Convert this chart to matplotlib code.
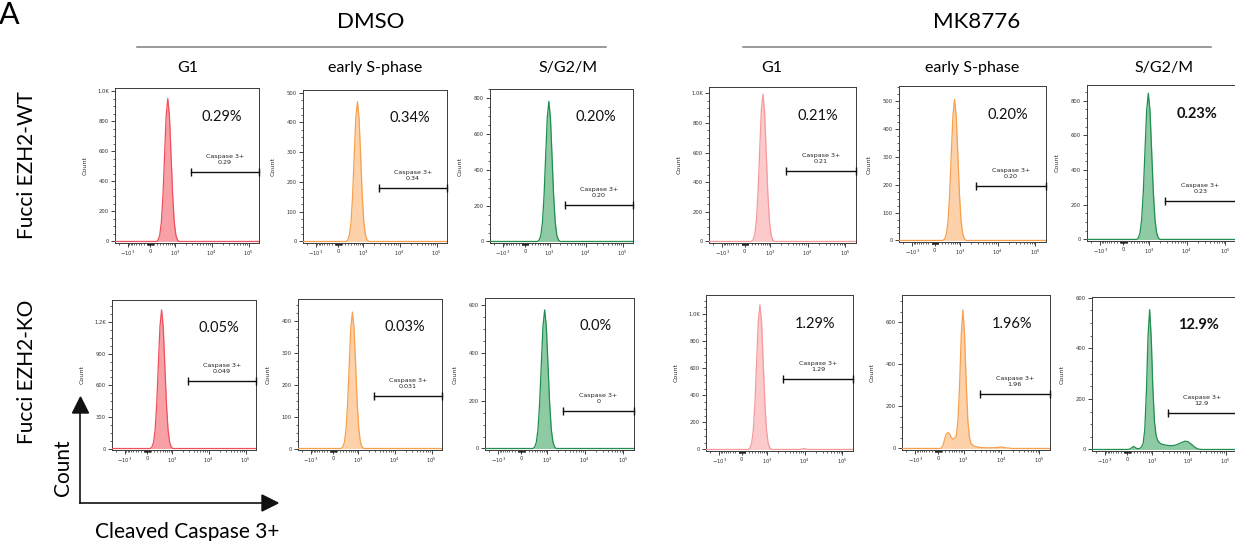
import numpy as np
import matplotlib
matplotlib.use("Agg")
import matplotlib.pyplot as plt
from matplotlib.patches import Polygon
from matplotlib.ticker import FixedLocator

plt.rcParams['font.family'] = ['Lato', 'DejaVu Sans']

# ------------------------------------------------------------------ data
conditions = ["DMSO", "MK8776"]
phases = ["G1", "early S-phase", "S/G2/M"]
genotypes = ["Fucci EZH2-WT", "Fucci EZH2-KO"]

x_tick_values = [-1000, 0, 1000, 10000, 100000]
x_tick_labels = [r"$-10^3$", "0", r"$10^3$", r"$10^4$", r"$10^5$"]

# WT row
wt_dmso_g1_x = [-2600, 0, 182, 230, 281, 335, 393, 454, 519, 590, 667, 751, 842, 941, 1050, 1169, 1300, 190000]
wt_dmso_g1_y = [0, 0, 0, 10, 42, 128, 309, 577, 838, 950, 838, 577, 309, 128, 42, 10, 0, 0]
wt_dmso_es_x = [-2600, 0, 230, 281, 335, 393, 454, 519, 590, 667, 751, 842, 941, 1050, 1169, 1300, 1445, 190000]
wt_dmso_es_y = [0, 0, 0, 5, 21, 63, 153, 285, 415, 470, 415, 285, 153, 63, 21, 5, 0, 0]
wt_dmso_sg2_x = [-2600, 0, 393, 454, 519, 590, 667, 751, 842, 941, 1050, 1169, 1300, 1445, 1603, 1778, 1970, 190000]
wt_dmso_sg2_y = [0, 0, 0, 9, 34, 106, 254, 475, 691, 783, 691, 475, 254, 106, 34, 9, 0, 0]
wt_mk_g1_x = [-2600, 0, 182, 230, 281, 335, 393, 454, 519, 590, 667, 751, 842, 941, 1050, 1169, 1300, 190000]
wt_mk_g1_y = [0, 0, 0, 11, 44, 134, 323, 604, 878, 995, 878, 604, 323, 134, 44, 11, 0, 0]
wt_mk_es_x = [-2600, 0, 230, 281, 335, 393, 454, 519, 590, 667, 751, 842, 941, 1050, 1169, 1300, 1445, 190000]
wt_mk_es_y = [0, 0, 0, 6, 22, 68, 164, 307, 446, 506, 446, 307, 164, 68, 22, 6, 0, 0]
wt_mk_sg2_x = [-2600, 0, 393, 454, 519, 590, 667, 751, 842, 941, 1050, 1169, 1300, 1445, 1603, 1778, 1970, 190000]
wt_mk_sg2_y = [0, 0, 0, 9, 37, 114, 274, 512, 744, 844, 744, 512, 274, 114, 37, 9, 0, 0]

# KO row
ko_dmso_g1_x = [-2600, 0, 89, 135, 182, 230, 281, 335, 393, 454, 519, 590, 667, 751, 842, 941, 1050, 190000]
ko_dmso_g1_y = [0, 0, 0, 14, 58, 178, 428, 799, 1162, 1317, 1162, 799, 428, 178, 58, 14, 0, 0]
ko_dmso_es_x = [-2600, 0, 230, 281, 335, 393, 454, 519, 590, 667, 751, 842, 941, 1050, 1169, 1300, 1445, 190000]
ko_dmso_es_y = [0, 0, 0, 5, 19, 58, 139, 260, 377, 428, 377, 260, 139, 58, 19, 5, 0, 0]
ko_dmso_sg2_x = [-2600, 0, 335, 393, 454, 519, 590, 667, 751, 842, 941, 1050, 1169, 1300, 1445, 1603, 1778, 190000]
ko_dmso_sg2_y = [0, 0, 0, 6, 26, 78, 189, 352, 512, 580, 512, 352, 189, 78, 26, 6, 0, 0]
ko_mk_g1_x = [-2600, 0, 182, 230, 281, 335, 393, 454, 519, 590, 667, 751, 842, 941, 1050, 1169, 1300, 7312, 9874, 12062, 190000]
ko_mk_g1_y = [0, 0, 0, 12, 47, 144, 347, 649, 943, 1069, 943, 649, 347, 144, 47, 12, 0, 0, 6, 0, 0]
ko_mk_es_x = [-2600, 0, 44, 89, 135, 182, 230, 281, 335, 393, 454, 519, 590, 667, 751, 842, 941, 1050, 1169,
              1300, 1445, 1603, 1970, 2674, 4428, 7312, 9874, 12062, 19891, 190000]
ko_mk_es_y = [0, 0, 0, 2, 15, 45, 70, 76, 68, 52, 44, 48, 60, 130, 300, 540, 658, 540, 310,
              130, 50, 22, 10, 5, 3, 4, 7, 4, 0, 0]
ko_mk_sg2_x = [-2600, 0, 89, 135, 182, 230, 281, 335, 393, 454, 519, 590, 667, 751, 842, 941, 1050, 1169, 1300,
               1445, 1603, 1778, 2416, 3274, 4428, 5413, 6615, 8082, 9874, 12062, 14735, 17998, 21984, 190000]
ko_mk_sg2_y = [0, 0, 2, 8, 12, 8, 4, 3, 5, 10, 25, 80, 230, 450, 553, 440, 240, 110, 55,
               35, 28, 22, 17, 15, 17, 22, 28, 33, 30, 20, 9, 2, 0, 0]

percent_labels = ["0.29%", "0.34%", "0.20%", "0.21%", "0.20%", "0.23%",
                  "0.05%", "0.03%", "0.0%", "1.29%", "1.96%", "12.9%"]
percent_bold = [False, False, False, False, False, True,
                False, False, False, False, False, True]
gate_values = ["0.29", "0.34", "0.20", "0.21", "0.20", "0.23",
               "0.049", "0.031", "0", "1.29", "1.96", "12.9"]
gate_levels = [463, 180, 206, 474, 194, 221, 644, 165, 158, 521, 257, 144]
gate_low = 2700
y_max = [1020, 509, 852, 1043, 554, 891, 1411, 469, 630, 1142, 729, 603]
y_step = [200, 100, 200, 200, 100, 200, 300, 100, 200, 200, 200, 200]

series_x = [wt_dmso_g1_x, wt_dmso_es_x, wt_dmso_sg2_x, wt_mk_g1_x, wt_mk_es_x, wt_mk_sg2_x,
            ko_dmso_g1_x, ko_dmso_es_x, ko_dmso_sg2_x, ko_mk_g1_x, ko_mk_es_x, ko_mk_sg2_x]
series_y = [wt_dmso_g1_y, wt_dmso_es_y, wt_dmso_sg2_y, wt_mk_g1_y, wt_mk_es_y, wt_mk_sg2_y,
            ko_dmso_g1_y, ko_dmso_es_y, ko_dmso_sg2_y, ko_mk_g1_y, ko_mk_es_y, ko_mk_sg2_y]

# ------------------------------------------------------------------ styles / layout
W, H = 1235, 541
XMIN, XMAX = -2600, 190000
C = 442.0
NEG = 0.88


def fwd(x):
    x = np.asarray(x, dtype=float)
    u = np.arcsinh(x / C)
    return np.where(u < 0, u * NEG, u)


def inv(u):
    u = np.asarray(u, dtype=float)
    return np.where(u < 0, np.sinh(u / NEG) * C, np.sinh(u) * C)


# (left, top, right, bottom) in pixels
boxes = [(115, 88, 259, 243), (303, 90, 447, 243), (490, 89, 633, 243),
         (709, 87, 856, 243), (899, 86, 1046, 242), (1087, 85, 1236, 241),
         (112, 300, 256, 450), (298, 299, 442, 450), (485, 298, 634, 450),
         (706, 295, 853, 451), (902, 295, 1050, 450), (1092, 297, 1236, 451)]

styles = {
    "g1_dmso": ("#ef4f5d", "#f7a1a7"),
    "g1_mk": ("#f49a9c", "#fccaca"),
    "es": ("#f6a04d", "#fdd2aa"),
    "sg2": ("#1f8e4e", "#8ecaa4"),
}
panel_style = ["g1_dmso", "es", "sg2", "g1_mk", "es", "sg2",
               "g1_dmso", "es", "sg2", "g1_mk", "es", "sg2"]

minor_x = ([-k * 100 for k in range(1, 10)] + [-2000] + [k * 10 for k in range(-9, 10) if k != 0]
           + [k * 100 for k in range(1, 10)] + [k * 1000 for k in range(2, 10)]
           + [k * 10000 for k in range(2, 10)])

fig = plt.figure(figsize=(W / 100, H / 100), dpi=100)

# pixel overlay for annotations
ov = fig.add_axes([0, 0, 1, 1], zorder=0)
ov.set_xlim(0, W)
ov.set_ylim(H, 0)
ov.axis("off")

ov.text(-1, 24, "A", fontsize=22, ha="left", va="baseline")
ov.text(371, 22, conditions[0], fontsize=16, ha="center", va="center")
ov.text(977, 22, conditions[1], fontsize=16, ha="center", va="center")
ov.plot([137, 606], [47, 47], color="#7f7f7f", lw=1.1)
ov.plot([743, 1211], [47, 47], color="#7f7f7f", lw=1.1)
col_x = [188, 375, 568, 772, 972, 1164]
for i, cx in enumerate(col_x):
    ov.text(cx, 68, phases[i % 3], fontsize=11.5, ha="center", va="center")
ov.text(27, 165, genotypes[0], fontsize=15, rotation=90, ha="center", va="center")
ov.text(27, 372, genotypes[1], fontsize=15, rotation=90, ha="center", va="center")

# axis arrows
ov.plot([80, 80], [503, 413], color="#111111", lw=1.2)
ov.plot([80, 262], [503, 503], color="#111111", lw=1.2)
ov.add_patch(Polygon([(72.5, 413), (88.5, 413), (80.5, 397)], closed=True, color="#111111"))
ov.add_patch(Polygon([(262, 495), (262, 511), (278, 503)], closed=True, color="#111111"))
ov.text(63, 468, "Count", fontsize=15, rotation=90, ha="center", va="center")
ov.text(187, 538, "Cleaved Caspase 3+", fontsize=15, ha="center", va="baseline")

for i in range(12):
    l, t, r, b = boxes[i]
    ax = fig.add_axes([l / W, 1 - b / H, (r - l) / W, (b - t) / H], zorder=2)
    ax.set_xscale("function", functions=(fwd, inv))
    ax.set_xlim(XMIN, XMAX)
    top = y_max[i]
    ax.set_ylim(-0.01 * top, top)
    lc, fc = styles[panel_style[i]]
    ax.fill_between(series_x[i], series_y[i], 0, color=fc, lw=0, zorder=2)
    ax.plot(series_x[i], series_y[i], color=lc, lw=0.9, zorder=3)

    # ticks
    ax.set_xticks(x_tick_values)
    ax.set_xticklabels(x_tick_labels)
    ax.xaxis.set_minor_locator(FixedLocator(minor_x))
    step = y_step[i]
    yt = list(range(0, int(top) + 1, step))
    ax.set_yticks(yt)
    ax.set_yticklabels([("%.1fK" % (v / 1000)) if v >= 1000 else str(v) for v in yt])
    ax.yaxis.set_minor_locator(FixedLocator(np.arange(0, top, step / 4)))
    ax.tick_params(axis="both", which="major", length=2.8, width=0.6, labelsize=3.8,
                   pad=1.5, colors="#222222", labelcolor="#333333")
    ax.tick_params(axis="both", which="minor", length=1.6, width=0.5, colors="#222222")
    for lab in ax.get_xticklabels() + ax.get_yticklabels():
        lab.set_family("DejaVu Sans")
    for s in ax.spines.values():
        s.set_color("#3a3a3a")
        s.set_linewidth(0.7)

    # small "Count" label
    wpx = r - l
    ax.text(-30 / wpx, 0.5, "Count", transform=ax.transAxes, rotation=90, fontsize=4.6,
            family="DejaVu Sans", ha="center", va="center", color="#333333")

    # gate
    gy = gate_levels[i]
    ax.plot([gate_low, XMAX], [gy, gy], color="#111111", lw=1.0, marker="|", markersize=6,
            markeredgewidth=1.0, clip_on=False, zorder=4)
    mid = float(inv((fwd(gate_low) + fwd(XMAX)) / 2))
    ax.annotate("Caspase 3+\n" + gate_values[i], xy=(mid, gy), xytext=(0, 5),
                textcoords="offset points", ha="center", va="bottom", fontsize=4.6,
                family="DejaVu Sans", linespacing=1.25, color="#222222")

    ax.text(0.74, 0.815, percent_labels[i], transform=ax.transAxes, ha="center", va="center",
            fontsize=10.5, fontweight="bold" if percent_bold[i] else "normal", color="#111111")

fig.savefig("out.png", dpi=100)
